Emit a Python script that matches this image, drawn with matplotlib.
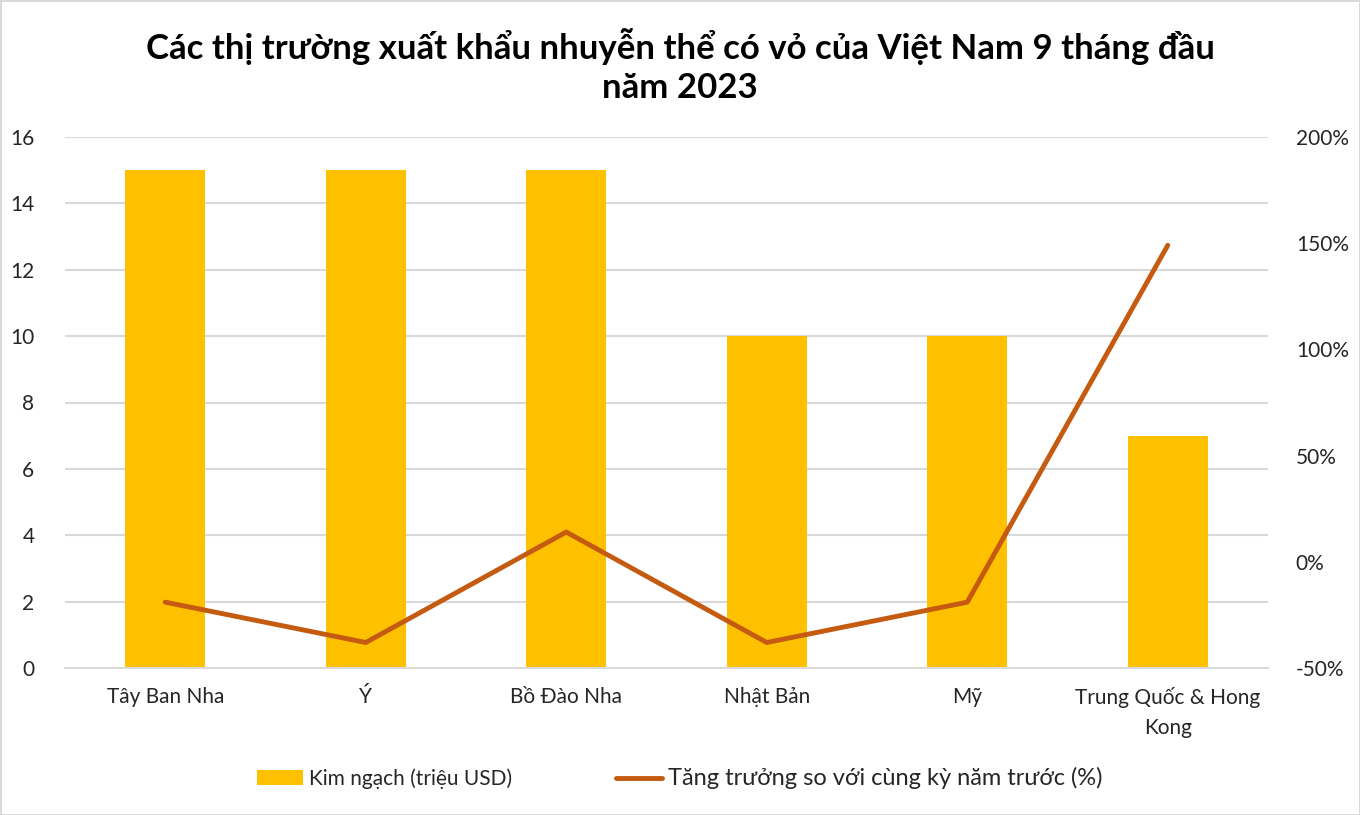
import numpy as np
import matplotlib.pyplot as plt
from matplotlib.ticker import FuncFormatter

plt.rcParams['font.family'] = ['Lato', 'DejaVu Sans']

# ======================== Данные ========================
markets = ['Tây Ban Nha', 'Ý', 'Bồ Đào Nha', 'Nhật Bản', 'Mỹ', 'Trung Quốc & Hong\nKong']
value_musd = [15, 15, 15, 10, 10, 7]          # Kim ngạch (triệu USD)
growth_pct = [-19, -38, 14, -38, -19, 149]     # Tăng trưởng (%)

title = 'Các thị trường xuất khẩu nhuyễn thể có vỏ của Việt Nam 9 tháng đầu\nnăm 2023'
bar_label = 'Kim ngạch (triệu USD)'
line_label = 'Tăng trưởng so với cùng kỳ năm trước (%)'

bar_color = '#FFC000'
line_color = '#C55A11'
grid_color = '#D9D9D9'
text_color = '#262626'

# ======================== Рисунок ========================
fig = plt.figure(figsize=(13.6, 8.15), dpi=100)
fig.patch.set_edgecolor(grid_color)
fig.patch.set_linewidth(2)
ax = fig.add_axes([65 / 1360, 1 - 668 / 815, (1268 - 65) / 1360, (668 - 137) / 815])
ax2 = ax.twinx()

x = np.arange(len(markets))
bars = ax.bar(x, value_musd, width=0.4, color=bar_color, zorder=2, label=bar_label)
line, = ax2.plot(x, growth_pct, color=line_color, lw=3.5, solid_capstyle='round',
                 zorder=3, label=line_label)

ax.set_xlim(-0.5, len(markets) - 0.5)
ax.set_ylim(0, 16)
ax.set_yticks(np.arange(0, 17, 2))
ax2.set_ylim(-50, 200)
ax2.set_yticks(np.arange(-50, 201, 50))
ax2.yaxis.set_major_formatter(FuncFormatter(lambda v, p: f'{v:.0f}%'))

ax.set_xticks(x)
ax.set_xticklabels(markets, fontsize=15, color=text_color, linespacing=1.6)
ax.tick_params(axis='x', length=0, pad=14)
ax.tick_params(axis='y', length=0, labelsize=15, labelcolor=text_color, pad=22)
ax2.tick_params(axis='y', length=0, labelsize=15, labelcolor=text_color, pad=20)

ax.grid(axis='y', color=grid_color, lw=1.5, zorder=0)
ax.set_axisbelow(True)
for a in (ax, ax2):
    for s in a.spines.values():
        s.set_visible(False)
ax.spines['bottom'].set_visible(True)
ax.spines['bottom'].set_color(grid_color)
ax.spines['bottom'].set_linewidth(1.5)

ax.set_zorder(ax2.get_zorder() - 1)
ax.patch.set_visible(False)
ax2.patch.set_visible(False)

fig.text(0.5, 1 - 66 / 815, title, ha='center', va='center', fontsize=25,
         fontweight='bold', color='black', linespacing=1.3)

leg = fig.legend([bars, line], [bar_label, line_label], loc='center',
                 bbox_to_anchor=(0.5, 1 - 778 / 815), ncol=2, frameon=False,
                 fontsize=15, handlelength=2.2, handletextpad=0.3, columnspacing=5)
for t in leg.get_texts():
    t.set_color(text_color)
leg.get_texts()[1].set_fontsize(17)

fig.savefig('out.png', dpi=100)
